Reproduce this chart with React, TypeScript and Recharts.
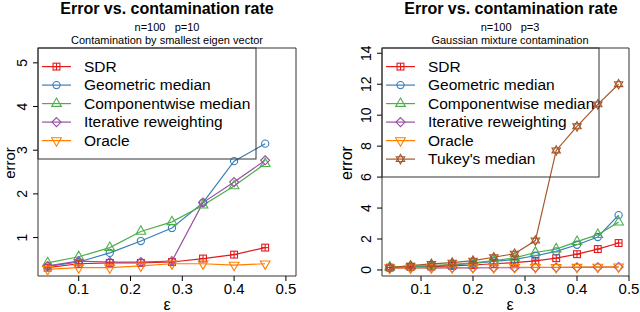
import React from 'react';
import { LineChart, Line, XAxis, YAxis, ReferenceArea } from 'recharts';

const FONT = '"Liberation Sans", Arial, Helvetica, sans-serif';

// ---- Left panel data (n=100, p=10) ----
const epsLeft = [0.04, 0.10, 0.16, 0.22, 0.28, 0.34, 0.40, 0.46];
const sdrLeft = [0.31, 0.40, 0.42, 0.42, 0.44, 0.52, 0.61, 0.77];
const geoLeft = [0.34, 0.44, 0.65, 0.92, 1.22, 1.80, 2.75, 3.15];
const compLeft = [0.42, 0.56, 0.77, 1.14, 1.36, 1.74, 2.18, 2.69];
const iterLeft = [0.35, 0.46, 0.44, 0.44, 0.46, 1.80, 2.27, 2.77];
const oracleLeft = [0.27, 0.31, 0.31, 0.35, 0.40, 0.40, 0.37, 0.40];

// ---- Right panel data (n=100, p=3) ----
const epsRight = [0.04, 0.08, 0.12, 0.16, 0.20, 0.24, 0.28, 0.32, 0.36, 0.40, 0.44, 0.48];
const sdrRight = [0.15, 0.20, 0.22, 0.26, 0.32, 0.40, 0.47, 0.59, 0.76, 1.02, 1.35, 1.74];
const geoRight = [0.15, 0.20, 0.25, 0.32, 0.42, 0.55, 0.68, 0.92, 1.20, 1.63, 2.13, 3.54];
const compRight = [0.18, 0.23, 0.29, 0.36, 0.46, 0.60, 0.78, 1.13, 1.35, 1.83, 2.28, 3.09];
const iterRight = [0.12, 0.13, 0.13, 0.14, 0.14, 0.15, 0.15, 0.16, 0.16, 0.17, 0.18, 0.19];
const oracleRight = [0.13, 0.14, 0.15, 0.15, 0.16, 0.16, 0.17, 0.17, 0.17, 0.18, 0.19, 0.20];
const tukeyRight = [0.15, 0.28, 0.39, 0.47, 0.60, 0.82, 1.05, 1.90, 7.72, 9.28, 10.70, 12.00];

const xTicks = [0.1, 0.2, 0.3, 0.4, 0.5];
const yTicksLeft = [1, 2, 3, 4, 5];
const yTicksRight = [0, 2, 4, 6, 8, 10, 12, 14];

const seriesNames = ['SDR', 'Geometric median', 'Componentwise median', 'Iterative reweighting', 'Oracle', "Tukey's median"];
const seriesKeys = ['sdr', 'geo', 'comp', 'iter', 'oracle', 'tukey'];
const seriesColors = ['#E41A1C', '#377EB8', '#4DAF4A', '#984EA3', '#FF7F00', '#A65628'];
const seriesShapes = ['sqplus', 'circle', 'triup', 'diamond', 'tridown', 'star'];

const leftData = epsLeft.map((x, i) => ({
  x, sdr: sdrLeft[i], geo: geoLeft[i], comp: compLeft[i], iter: iterLeft[i], oracle: oracleLeft[i],
}));
const rightData = epsRight.map((x, i) => ({
  x, sdr: sdrRight[i], geo: geoRight[i], comp: compRight[i], iter: iterRight[i], oracle: oracleRight[i], tukey: tukeyRight[i],
}));

const XC = 3.6;

function Marker({ shape, cx, cy, color }: { shape: string; cx: number; cy: number; color: string }) {
  const sw = 1.1;
  const common = { fill: 'none', stroke: color, strokeWidth: sw };
  if (cx == null || cy == null || isNaN(cx) || isNaN(cy)) return <g />;
  switch (shape) {
    case 'sqplus': {
      const s = XC * 0.95;
      return (
        <g>
          <rect x={cx - s} y={cy - s} width={2 * s} height={2 * s} {...common} />
          <line x1={cx - s} x2={cx + s} y1={cy} y2={cy} stroke={color} strokeWidth={sw} />
          <line x1={cx} x2={cx} y1={cy - s} y2={cy + s} stroke={color} strokeWidth={sw} />
        </g>
      );
    }
    case 'circle':
      return <circle cx={cx} cy={cy} r={XC} {...common} />;
    case 'triup': {
      const r = 1.5551 * XC, yc = 0.7776 * XC, w = 1.3468 * XC;
      return <polygon points={`${cx},${cy - r} ${cx + w},${cy + yc} ${cx - w},${cy + yc}`} {...common} />;
    }
    case 'tridown': {
      const r = 1.5551 * XC, yc = 0.7776 * XC, w = 1.3468 * XC;
      return <polygon points={`${cx},${cy + r} ${cx + w},${cy - yc} ${cx - w},${cy - yc}`} {...common} />;
    }
    case 'diamond': {
      const d = 1.2533 * XC;
      return <polygon points={`${cx},${cy - d} ${cx + d},${cy} ${cx},${cy + d} ${cx - d},${cy}`} {...common} />;
    }
    case 'star': {
      const h = 4.8, w = 4.2;
      return (
        <g>
          <polygon points={`${cx},${cy - h} ${cx + w},${cy + h / 2} ${cx - w},${cy + h / 2}`} {...common} />
          <polygon points={`${cx},${cy + h} ${cx + w},${cy - h / 2} ${cx - w},${cy - h / 2}`} {...common} />
        </g>
      );
    }
    default:
      return <g />;
  }
}

const XTick = (props: any) => {
  const { x, y, payload } = props;
  return (
    <text x={x} y={y + 11} textAnchor="middle" fontFamily={FONT} fontSize={15} fill="#000">
      {String(payload.value)}
    </text>
  );
};

const YTick = (props: any) => {
  const { x, y, payload } = props;
  const bx = x - 4;
  return (
    <text x={bx} y={y} textAnchor="middle" fontFamily={FONT} fontSize={14} fill="#000"
      transform={`rotate(-90 ${bx} ${y})`}>
      {String(payload.value)}
    </text>
  );
};

function Panel({ data, n, yDomain, xDomain, yTicks, yAxisWidth, marginRight }: any) {
  return (
    <LineChart width={320} height={312} data={data} margin={{ top: 48, right: marginRight, bottom: 0, left: 0 }}>
      <XAxis type="number" dataKey="x" domain={xDomain} allowDataOverflow ticks={xTicks}
        height={36} axisLine={false} tickLine={{ stroke: '#000' }} tickSize={5} tickMargin={2}
        tick={<XTick />} interval={0} />
      <YAxis type="number" domain={yDomain} allowDataOverflow ticks={yTicks} width={yAxisWidth}
        axisLine={false} tickLine={{ stroke: '#000' }} tickSize={5} tickMargin={2}
        tick={<YTick />} interval={0} />
      <ReferenceArea x1={xDomain[0]} x2={xDomain[1]} y1={yDomain[0]} y2={yDomain[1]}
        fill="none" fillOpacity={0} stroke="#333" strokeWidth={1} ifOverflow="visible" />
      {seriesKeys.slice(0, n).map((k, si) => (
        <Line key={k} type="linear" dataKey={k} stroke={seriesColors[si]} strokeWidth={1.2}
          isAnimationActive={false}
          dot={(p: any) => (
            <Marker key={`${k}-${p.index}`} shape={seriesShapes[si]} cx={p.cx} cy={p.cy} color={seriesColors[si]} />
          )}
          activeDot={false} />
      ))}
    </LineChart>
  );
}

function LegendBox({ x, y, w, h, n }: { x: number; y: number; w: number; h: number; n: number }) {
  const rows = seriesNames.slice(0, n);
  return (
    <g>
      <rect x={x} y={y} width={w} height={h} fill="none" stroke="#333" strokeWidth={1} />
      {rows.map((name, i) => {
        const cy = y + 18.6 + i * 18.5;
        return (
          <g key={name}>
            <line x1={x + 4} x2={x + 33} y1={cy} y2={cy} stroke={seriesColors[i]} strokeWidth={1.2} />
            <Marker shape={seriesShapes[i]} cx={x + 18.5} cy={cy} color={seriesColors[i]} />
            <text x={x + 46} y={cy + 5.3} fontFamily={FONT} fontSize={15.5} fill="#000">{name}</text>
          </g>
        );
      })}
    </g>
  );
}

const NB = '\u00a0';

export default function App() {
  return (
    <div style={{ position: 'absolute', left: 0, top: 0, width: 640, height: 312, background: '#fff' }}>
      <div style={{ position: 'absolute', left: 0, top: 0 }}>
        <Panel data={leftData} n={5} yDomain={[0.12, 5.34]} xDomain={[0.0214, 0.5195]}
          yTicks={yTicksLeft} yAxisWidth={38} marginRight={24} />
      </div>
      <div style={{ position: 'absolute', left: 320, top: 0 }}>
        <Panel data={rightData} n={6} yDomain={[-0.39, 14.34]} xDomain={[0.025, 0.5]}
          yTicks={yTicksRight} yAxisWidth={62} marginRight={11} />
      </div>
      <svg width={640} height={312} style={{ position: 'absolute', left: 0, top: 0, pointerEvents: 'none' }}>
        <g fontFamily={FONT} fill="#000">
          <text x={167} y={14} textAnchor="middle" fontSize={16} fontWeight="bold">Error vs. contamination rate</text>
          <text x={167} y={30.5} textAnchor="middle" fontSize={11}>{`n=100${NB}${NB}${NB}p=10`}</text>
          <text x={167} y={44} textAnchor="middle" fontSize={11}>Contamination by smallest eigen vector</text>
          <text x={511} y={14} textAnchor="middle" fontSize={16} fontWeight="bold">Error vs. contamination rate</text>
          <text x={510} y={30.5} textAnchor="middle" fontSize={11}>{`n=100${NB}${NB}${NB}p=3`}</text>
          <text x={510} y={44} textAnchor="middle" fontSize={11}>Gaussian mixture contamination</text>
          <text x={167} y={310} textAnchor="middle" fontSize={16}>ε</text>
          <text x={510} y={310} textAnchor="middle" fontSize={16}>ε</text>
          <text x={14.5} y={163} textAnchor="middle" fontSize={15} transform="rotate(-90 14.5 163)">error</text>
          <text x={352} y={163} textAnchor="middle" fontSize={16} transform="rotate(-90 352 163)">error</text>
        </g>
        <LegendBox x={38} y={48} w={218} h={111} n={5} />
        <LegendBox x={382} y={48} w={217} h={129} n={6} />
      </svg>
    </div>
  );
}
